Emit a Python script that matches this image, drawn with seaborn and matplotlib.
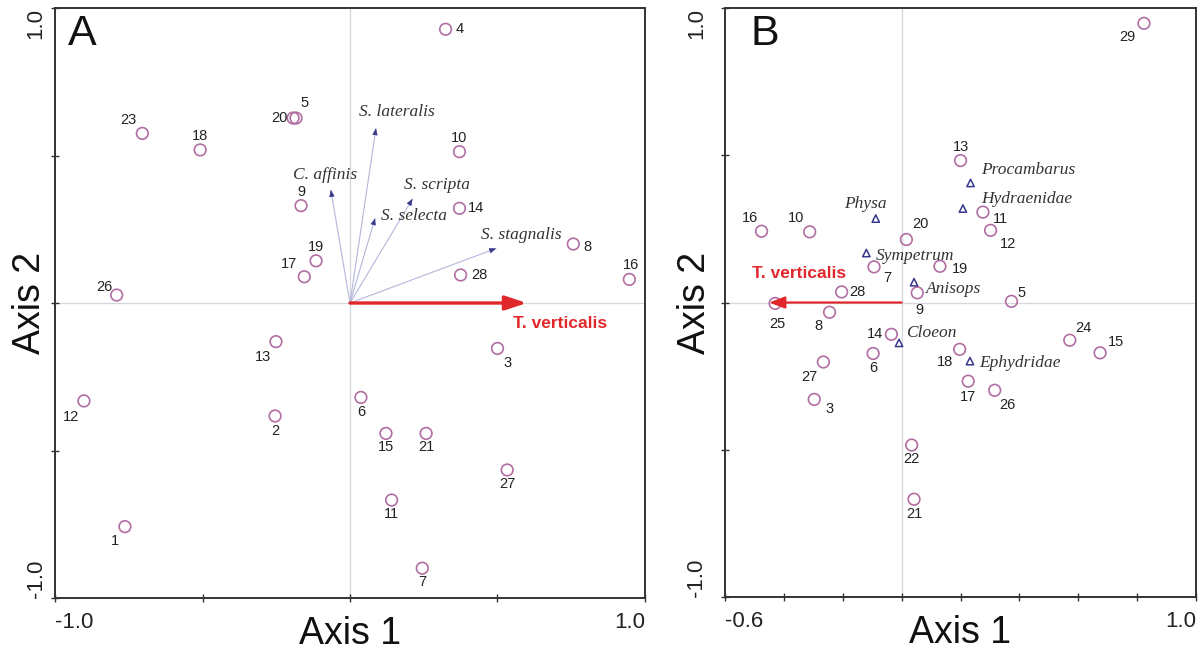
import matplotlib
matplotlib.use("Agg")
import matplotlib.pyplot as plt
import seaborn as sns
import pandas as pd

sns.set_style("white")
plt.rcParams["font.family"] = ["Liberation Sans", "DejaVu Sans"]

# ---- panel A: sites ----
a_sites = [1, 2, 3, 4, 5, 6, 7, 8, 9, 10, 11, 12, 13, 14, 15, 16, 17, 18, 19, 20, 21, 23, 26, 27, 28]
a_axis1 = [-0.763, -0.254, 0.500, 0.324, -0.183, 0.037, 0.245, 0.757, -0.166, 0.371, 0.141, -0.902, -0.251,
           0.371, 0.122, 0.947, -0.155, -0.508, -0.115, -0.193, 0.258, -0.704, -0.791, 0.533, 0.375]
a_axis2 = [-0.758, -0.383, -0.154, 0.928, 0.627, -0.320, -0.899, 0.200, 0.330, 0.513, -0.668, -0.332, -0.131,
           0.321, -0.442, 0.080, 0.089, 0.519, 0.143, 0.627, -0.442, 0.575, 0.027, -0.566, 0.095]
# label offsets (pixels)
a_dx = [-10, 0, 10, 14, 8, 0, 0, 14, 0, 0, 0, -13, -13, 17, 0, 2, -15, 0, 0, -14, 0, -14, -12, 0, 19]
a_dy = [-14, -15, -15, 0, 15, -15, -14, -3, 14, 14, -14, -16, -15, 0, -14, 14, 13, 14, 14, 0, -14, 13, 8, -14, 0]

# panel A: species vectors
a_species = ["S. lateralis", "C. affinis", "S. scripta", "S. selecta", "S. stagnalis"]
a_sp_axis1 = [0.088, -0.065, 0.212, 0.085, 0.495]
a_sp_axis2 = [0.592, 0.383, 0.353, 0.287, 0.185]
a_sp_dx = [-17, -38, -9, 6, -15]
a_sp_dy = [16, 15, 14, 2, 13]
a_tv = 0.599

# ---- panel B: sites ----
b_sites = [3, 5, 6, 7, 8, 9, 10, 11, 12, 13, 14, 15, 16, 17, 18, 19, 20, 21, 22, 24, 25, 26, 27, 28, 29]
b_axis1 = [-0.297, 0.373, -0.097, -0.094, -0.245, 0.053, -0.3125, 0.276, 0.302, 0.200, -0.035, 0.674, -0.476,
           0.226, 0.197, 0.130, 0.016, 0.042, 0.034, 0.571, -0.430, 0.316, -0.266, -0.204, 0.823]
b_axis2 = [-0.329, 0.004, -0.173, 0.121, -0.033, 0.033, 0.240, 0.307, 0.245, 0.482, -0.108, -0.171, 0.242,
           -0.267, -0.159, 0.123, 0.214, -0.668, -0.484, -0.128, -0.003, -0.298, -0.202, 0.036, 0.948]
b_dx = [15, 10, 0, 13, -11, 2, -14, 18, 17, 0, -16, 16, -12, 0, -15, 20, 14, 0, 0, 14, 2, 13, -14, 16, -17]
b_dy = [-10, 8, -15, -11, -14, -17, 14, -7, -14, 14, 0, 11, 13, -16, -13, -3, 15, -15, -14, 12, -21, -15, -15, 0, -14]

# panel B: taxa
b_taxa = ["Physa", "Sympetrum", "Anisops", "Procambarus", "Hydraenidae", "Cloeon", "Ephydridae"]
b_tx_axis1 = [-0.088, -0.120, 0.042, 0.234, 0.208, -0.009, 0.232]
b_tx_axis2 = [0.285, 0.168, 0.069, 0.406, 0.319, -0.137, -0.199]
b_tx_dx = [-10, 9, 12, 11, 18, 7, 9]
b_tx_dy = [15, -3, -7, 13, 10, 10, -2]
b_tx_ha = ["center", "left", "left", "left", "left", "left", "left"]
b_tv = -0.45

circle_col = "#b26ea2"
tri_col = "#38388c"
red = "#e0282c"
num_col = "#222222"


def style_axes(ax, xmin, xmax, xticks, xlabels, ypad):
    ax.set_xlim(xmin, xmax)
    ax.set_ylim(-1, 1)
    ax.axhline(0, color="#d6d6de", lw=0.9, zorder=0)
    ax.axvline(0, color="#d6d6de", lw=0.9, zorder=0)
    ax.set_xticks(xticks)
    ax.set_xticklabels(xlabels)
    ax.set_yticks([-1, -0.5, 0, 0.5, 1])
    ax.set_yticklabels(["-1.0", "", "", "", "1.0"], rotation=90)
    ax.tick_params(axis="both", direction="inout", length=6, width=1, colors="#333333",
                   labelsize=16, labelcolor="#222222", bottom=True, left=True)
    ax.tick_params(axis="x", pad=7)
    ax.tick_params(axis="y", pad=ypad)
    xl = ax.get_xticklabels()
    xl[0].set_ha("left")
    xl[-1].set_ha("right")
    yl = ax.get_yticklabels()
    yl[0].set_va("bottom")
    yl[-1].set_va("top")
    for s in ax.spines.values():
        s.set_visible(True)
        s.set_color("#333333")
        s.set_linewidth(1.4)
    ax.set_xlabel("Axis 1", fontsize=27, color="#111111")
    ax.set_ylabel("Axis 2", fontsize=27, color="#111111")


fig = plt.figure(figsize=(12.04, 6.57), dpi=100)
ax_a = fig.add_axes([0.0457, 0.0898, 0.4900, 0.8980])
ax_b = fig.add_axes([0.6022, 0.0913, 0.3912, 0.8965])

# ---------- panel A ----------
style_axes(ax_a, -1, 1, [-1, -0.5, 0, 0.5, 1], ["-1.0", "", "", "", "1.0"], 3)
ax_a.xaxis.set_label_coords(0.5, -0.03)
ax_a.yaxis.set_label_coords(-0.012, 0.5)

df_a = pd.DataFrame({"site": a_sites, "axis1": a_axis1, "axis2": a_axis2})
sns.scatterplot(data=df_a, x="axis1", y="axis2", ax=ax_a, s=70, facecolor="none",
                edgecolor=circle_col, linewidth=1.2, zorder=3)
for site, x, y, dx, dy in zip(a_sites, a_axis1, a_axis2, a_dx, a_dy):
    ax_a.annotate(str(site), (x, y), xytext=(dx, dy), textcoords="offset pixels",
                  ha="center", va="center", fontsize=10.5, color=num_col)

for name, x, y, dx, dy in zip(a_species, a_sp_axis1, a_sp_axis2, a_sp_dx, a_sp_dy):
    ax_a.plot([0, x], [0, y], color="#b4b7da", lw=0.8, zorder=2)
    ax_a.annotate("", xy=(x, y), xytext=(x * 0.97, y * 0.97),
                  arrowprops=dict(arrowstyle="-|>,head_length=0.5,head_width=0.2", color=tri_col,
                                  lw=0.5, mutation_scale=8, shrinkA=0, shrinkB=0))
    ax_a.annotate(name, (x, y), xytext=(dx, dy), textcoords="offset pixels", ha="left", va="center",
                  fontsize=12.5, family="Liberation Serif", style="italic", color="#333333")

ax_a.annotate("", xy=(a_tv, 0), xytext=(0, 0),
              arrowprops=dict(arrowstyle="-|>,head_length=0.72,head_width=0.24", color=red, lw=2.4,
                              mutation_scale=18, shrinkA=0, shrinkB=0), zorder=4)
ax_a.text(a_tv - 0.046, -0.069, "T. verticalis", color=red, fontsize=12.5, fontweight="bold",
          ha="left", va="center")
ax_a.text(0.022, 0.99, "A", transform=ax_a.transAxes, fontsize=31, ha="left", va="top", color="#111111")

# ---------- panel B ----------
style_axes(ax_b, -0.6, 1.0, [-0.6, -0.4, -0.2, 0, 0.2, 0.4, 0.6, 0.8, 1.0],
           ["-0.6", "", "", "", "", "", "", "", "1.0"], 10)
ax_b.xaxis.set_label_coords(0.5, -0.03)
ax_b.yaxis.set_label_coords(-0.025, 0.5)

df_b = pd.DataFrame({"site": b_sites, "axis1": b_axis1, "axis2": b_axis2})
sns.scatterplot(data=df_b, x="axis1", y="axis2", ax=ax_b, s=70, facecolor="none",
                edgecolor=circle_col, linewidth=1.2, zorder=3)
for site, x, y, dx, dy in zip(b_sites, b_axis1, b_axis2, b_dx, b_dy):
    ax_b.annotate(str(site), (x, y), xytext=(dx, dy), textcoords="offset pixels",
                  ha="center", va="center", fontsize=10.5, color=num_col)

df_t = pd.DataFrame({"taxon": b_taxa, "axis1": b_tx_axis1, "axis2": b_tx_axis2})
sns.scatterplot(data=df_t, x="axis1", y="axis2", ax=ax_b, s=28, marker="^", facecolor="none",
                edgecolor=tri_col, linewidth=1.1, zorder=3)
for name, x, y, dx, dy, ha in zip(b_taxa, b_tx_axis1, b_tx_axis2, b_tx_dx, b_tx_dy, b_tx_ha):
    ax_b.annotate(name, (x, y), xytext=(dx, dy), textcoords="offset pixels", ha=ha, va="center",
                  fontsize=12.5, family="Liberation Serif", style="italic", color="#333333")

ax_b.annotate("", xy=(b_tv, 0), xytext=(0, 0),
              arrowprops=dict(arrowstyle="-|>,head_length=0.78,head_width=0.3", color=red, lw=1.6,
                              mutation_scale=12, shrinkA=0, shrinkB=0), zorder=4)
ax_b.text(-0.348, 0.10, "T. verticalis", color=red, fontsize=12.5, fontweight="bold",
          ha="center", va="center")
ax_b.text(0.055, 0.99, "B", transform=ax_b.transAxes, fontsize=31, ha="left", va="top", color="#111111")

fig.savefig("out.png", dpi=100)
